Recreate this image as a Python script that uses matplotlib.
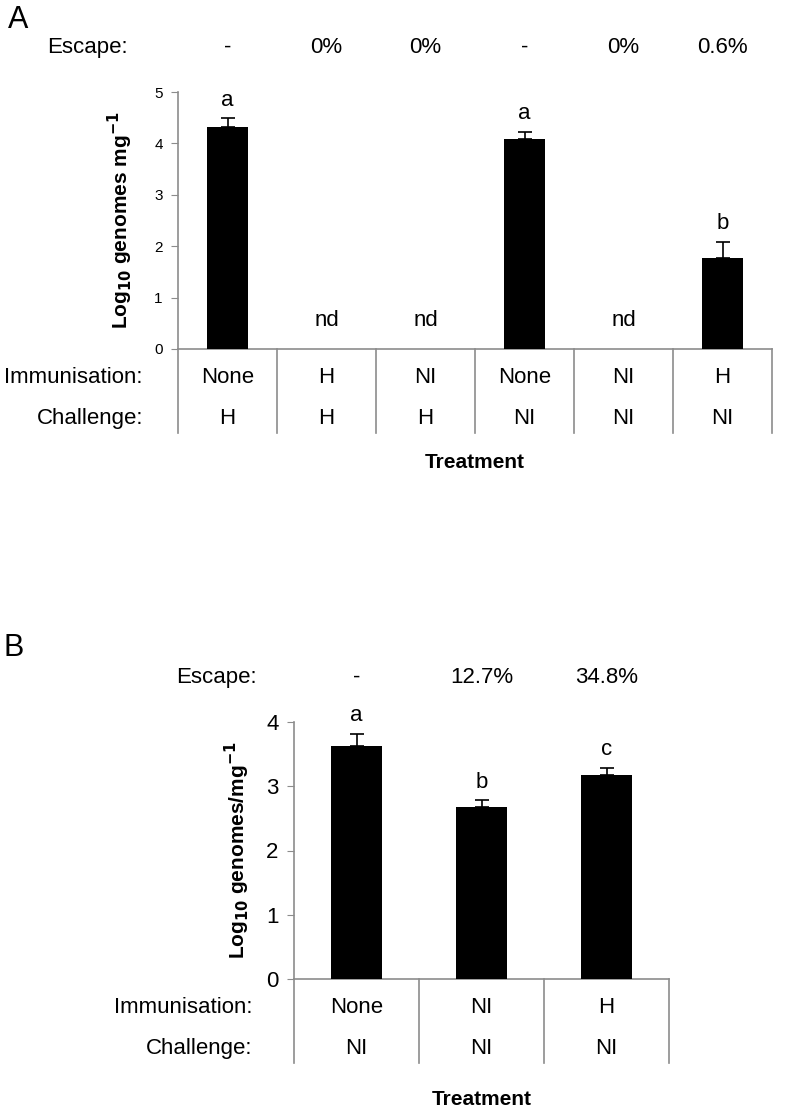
import matplotlib
matplotlib.use("Agg")
import matplotlib.pyplot as plt
import matplotlib.transforms as mtransforms

# panel A data
a_means = [4.31, 0, 0, 4.09, 0, 1.78]
a_err = [0.19, 0, 0, 0.14, 0, 0.31]
a_letters = ["a", "nd", "nd", "a", "nd", "b"]
a_escape = ["-", "0%", "0%", "-", "0%", "0.6%"]
a_immun = ["None", "H", "NI", "None", "NI", "H"]
a_chall = ["H", "H", "H", "NI", "NI", "NI"]

# panel B data
b_means = [3.63, 2.67, 3.17]
b_err = [0.19, 0.11, 0.12]
b_letters = ["a", "b", "c"]
b_escape = ["-", "12.7%", "34.8%"]
b_immun = ["None", "NI", "H"]
b_chall = ["NI", "NI", "NI"]

GREY = "#8c8c8c"
NARROW = ["Liberation Sans Narrow", "Liberation Sans", "DejaVu Sans"]
SANS = ["Liberation Sans", "DejaVu Sans"]
plt.rcParams["font.family"] = SANS

fig = plt.figure(figsize=(7.95, 11.18), dpi=100)


def panel(rect, means, err, letters, escape, immun, chall, ymax, ylabel,
          tick_fs, txt_fs, txt_family, label_x, ylabel_pad):
    ax = fig.add_axes(rect)
    n = len(means)
    x = list(range(n))
    ax.bar(x, means, width=0.41, color="black", zorder=3)
    for i in x:
        if err[i] > 0:
            ax.errorbar(i, means[i], yerr=[[0], [err[i]]], fmt="none",
                        ecolor="black", elinewidth=1.2, capsize=5, capthick=1.2, zorder=4)
    ax.set_xlim(-0.5, n - 0.5)
    ax.set_ylim(0, ymax)
    ax.set_yticks(range(ymax + 1))
    ax.set_xticks([])
    for s in ["top", "right"]:
        ax.spines[s].set_visible(False)
    for s in ["left", "bottom"]:
        ax.spines[s].set_color(GREY)
        ax.spines[s].set_linewidth(1.2)
    ax.tick_params(axis="y", direction="out", length=5, color=GREY,
                   labelsize=tick_fs, pad=6)
    ax.set_ylabel(ylabel, fontsize=15, fontweight="bold", labelpad=ylabel_pad)

    # letters above bars
    for i in x:
        if letters[i] == "nd":
            ax.text(i, 0.55, "nd", ha="center", va="center", fontsize=txt_fs)
        else:
            ax.text(i, means[i] + err[i] + 0.1 * ymax / 5 * 1.4, letters[i],
                    ha="center", va="bottom", fontsize=txt_fs)

    # table lines below axis
    for b in range(n + 1):
        ax.plot([b - 0.5, b - 0.5], [0, -0.327], transform=ax.get_xaxis_transform(),
                color=GREY, lw=1.2, clip_on=False)

    trans = ax.get_xaxis_transform()
    ftrans = mtransforms.blended_transform_factory(fig.transFigure, ax.transAxes)
    for i in x:
        ax.text(i, 1.175, escape[i], transform=trans, ha="center", va="center",
                fontsize=txt_fs, family=txt_family)
        ax.text(i, -0.112, immun[i], transform=trans, ha="center", va="center",
                fontsize=txt_fs, family=txt_family)
        ax.text(i, -0.27, chall[i], transform=trans, ha="center", va="center",
                fontsize=txt_fs, family=txt_family)
    ax.text(label_x, -0.112, "Immunisation:", transform=ftrans, ha="right",
            va="center", fontsize=txt_fs, family=txt_family)
    ax.text(label_x, -0.27, "Challenge:", transform=ftrans, ha="right",
            va="center", fontsize=txt_fs, family=txt_family)
    return ax, trans, ftrans


axA, tA, fA = panel([178 / 795, 1 - 349 / 1118, 594 / 795, 257 / 1118],
                    a_means, a_err, a_letters, a_escape, a_immun, a_chall, 5,
                    r"Log$_{\mathbf{10}}$ genomes mg$^{\mathbf{-1}}$",
                    11, 16, NARROW, 143 / 795, 14)
axA.text(128 / 795, 1.175, "Escape:", transform=fA, ha="right", va="center",
         fontsize=16, family=NARROW)
axA.text(2.5, -0.44, "Treatment", transform=tA, ha="center", va="center",
         fontsize=15, fontweight="bold", family=NARROW)
fig.text(8 / 795, 1 - 20 / 1118, "A", fontsize=22, va="center", ha="left")

axB, tB, fB = panel([294 / 795, 1 - 979 / 1118, 375 / 795, 257 / 1118],
                    b_means, b_err, b_letters, b_escape, b_immun, b_chall, 4,
                    r"Log$_{\mathbf{10}}$ genomes/mg$^{\mathbf{-1}}$",
                    16, 16, SANS, 252 / 795, 10)
axB.text(257 / 795, 1.172, "Escape:", transform=fB, ha="right", va="center",
         fontsize=16)
axB.text(1, -0.47, "Treatment", transform=tB, ha="center", va="center",
         fontsize=15, fontweight="bold", family=NARROW)
fig.text(3 / 795, 1 - 648 / 1118, "B", fontsize=22, va="center", ha="left")

fig.savefig("out.png", dpi=100)
